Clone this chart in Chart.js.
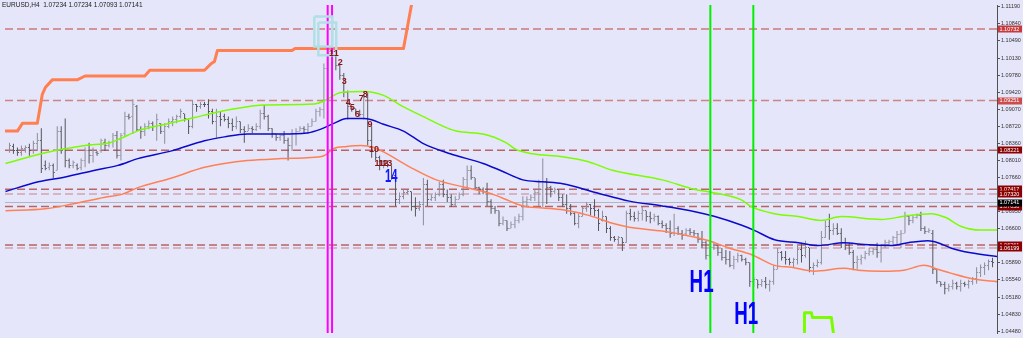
<!DOCTYPE html>
<html><head><meta charset="utf-8">
<script src="https://cdn.jsdelivr.net/npm/chart.js@4.4.1/dist/chart.umd.min.js"></script>
<style>html,body{margin:0;padding:0;background:#E6E6FA;overflow:hidden}canvas{display:block}</style>
</head><body>
<canvas id="c" width="1023" height="338"></canvas>
<script>
const symbolTitle = 'EURUSD,H4  1.07234 1.07234 1.07093 1.07141';

// OHLC bars (H4), one per bar index 0..247
const opens = [
1.0821,1.0830,1.0821,1.0817,1.0826,1.0828,1.0821,1.0836,1.0842,1.0791,
1.0787,1.0791,1.0781,1.0862,1.0826,1.0801,1.0791,1.0791,1.0787,1.0801,
1.0821,1.0811,1.0817,1.0821,1.0838,1.0832,1.0838,1.0852,1.0811,1.0856,
1.0892,1.0892,1.0912,1.0866,1.0862,1.0872,1.0878,1.0872,1.0878,1.0862,
1.0872,1.0882,1.0886,1.0892,1.0898,1.0886,1.0872,1.0916,1.0912,1.0918,
1.0916,1.0902,1.0882,1.0892,1.0892,1.0886,1.0878,1.0872,1.0882,1.0866,
1.0862,1.0868,1.0866,1.0872,1.0898,1.0892,1.0868,1.0856,1.0848,1.0852,
1.0842,1.0832,1.0858,1.0862,1.0868,1.0866,1.0872,1.0882,1.0902,1.0906,
1.0992,1.1023,1.1027,1.0998,1.0978,1.0942,1.0912,1.0908,1.0902,1.0896,
1.0932,1.0842,1.0821,1.0807,1.0791,1.0795,1.0791,1.0771,1.0721,1.0727,
1.0735,1.0737,1.0705,1.0701,1.0711,1.0751,1.0721,1.0725,1.0731,1.0751,
1.0731,1.0725,1.0711,1.0721,1.0731,1.0761,1.0781,1.0765,1.0745,1.0741,
1.0737,1.0717,1.0701,1.0697,1.0671,1.0677,1.0661,1.0669,1.0677,1.0685,
1.0717,1.0721,1.0725,1.0735,1.0741,1.0757,1.0745,1.0737,1.0741,1.0725,
1.0711,1.0701,1.0691,1.0671,1.0685,1.0701,1.0711,1.0701,1.0697,1.0677,
1.0685,1.0661,1.0641,1.0637,1.0641,1.0631,1.0691,1.0685,1.0681,1.0691,
1.0697,1.0685,1.0681,1.0685,1.0671,1.0667,1.0661,1.0651,1.0661,1.0651,
1.0651,1.0657,1.0653,1.0649,1.0637,1.0631,1.0604,1.0620,1.0625,1.0610,
1.0600,1.0596,1.0584,1.0596,1.0604,1.0596,1.0590,1.0550,1.0554,1.0544,
1.0550,1.0544,1.0550,1.0576,1.0610,1.0600,1.0596,1.0590,1.0596,1.0616,
1.0604,1.0620,1.0580,1.0584,1.0590,1.0641,1.0665,1.0657,1.0661,1.0651,
1.0631,1.0625,1.0610,1.0590,1.0596,1.0600,1.0608,1.0612,1.0616,1.0610,
1.0625,1.0631,1.0633,1.0641,1.0647,1.0651,1.0685,1.0677,1.0683,1.0687,
1.0661,1.0655,1.0651,1.0576,1.0550,1.0544,1.0536,1.0540,1.0546,1.0540,
1.0546,1.0544,1.0550,1.0556,1.0570,1.0580,1.0584,1.0592];
const highs = [
1.0838,1.0836,1.0828,1.0832,1.0832,1.0836,1.0842,1.0858,1.0868,1.0801,
1.0797,1.0795,1.0872,1.0872,1.0888,1.0805,1.0801,1.0795,1.0805,1.0828,
1.0838,1.0828,1.0821,1.0846,1.0846,1.0842,1.0858,1.0862,1.0858,1.0902,
1.0898,1.0928,1.0916,1.0872,1.0878,1.0884,1.0882,1.0898,1.0878,1.0878,
1.0888,1.0892,1.0896,1.0908,1.0898,1.0886,1.0926,1.0918,1.0922,1.0922,
1.0928,1.0908,1.0908,1.0902,1.0898,1.0892,1.0888,1.0892,1.0882,1.0872,
1.0876,1.0872,1.0878,1.0906,1.0916,1.0896,1.0868,1.0856,1.0856,1.0862,
1.0848,1.0866,1.0868,1.0872,1.0872,1.0878,1.0888,1.0908,1.0912,1.1002,
1.1033,1.1033,1.1029,1.1002,1.0982,1.0946,1.0914,1.0908,1.0906,1.0936,
1.0942,1.0872,1.0826,1.0811,1.0801,1.0801,1.0791,1.0771,1.0735,1.0741,
1.0741,1.0737,1.0725,1.0717,1.0765,1.0761,1.0731,1.0735,1.0757,1.0761,
1.0741,1.0731,1.0727,1.0735,1.0767,1.0791,1.0791,1.0765,1.0747,1.0745,
1.0755,1.0721,1.0707,1.0697,1.0685,1.0677,1.0675,1.0685,1.0691,1.0727,
1.0727,1.0731,1.0741,1.0761,1.0805,1.0765,1.0749,1.0745,1.0741,1.0731,
1.0731,1.0711,1.0695,1.0691,1.0705,1.0715,1.0711,1.0721,1.0701,1.0697,
1.0685,1.0665,1.0645,1.0645,1.0641,1.0697,1.0701,1.0695,1.0697,1.0705,
1.0697,1.0695,1.0691,1.0687,1.0677,1.0671,1.0677,1.0691,1.0665,1.0657,
1.0661,1.0661,1.0657,1.0651,1.0655,1.0635,1.0631,1.0631,1.0625,1.0620,
1.0616,1.0614,1.0604,1.0610,1.0606,1.0600,1.0590,1.0560,1.0554,1.0556,
1.0560,1.0554,1.0584,1.0620,1.0614,1.0614,1.0600,1.0600,1.0625,1.0631,
1.0635,1.0620,1.0590,1.0596,1.0655,1.0677,1.0691,1.0671,1.0671,1.0661,
1.0641,1.0631,1.0616,1.0604,1.0606,1.0614,1.0620,1.0620,1.0631,1.0627,
1.0637,1.0637,1.0645,1.0655,1.0657,1.0695,1.0687,1.0687,1.0691,1.0695,
1.0665,1.0661,1.0657,1.0576,1.0550,1.0550,1.0546,1.0554,1.0550,1.0554,
1.0550,1.0554,1.0560,1.0580,1.0586,1.0590,1.0596,1.0600];
const lows = [
1.0817,1.0815,1.0811,1.0811,1.0817,1.0811,1.0815,1.0821,1.0775,1.0781,
1.0781,1.0765,1.0781,1.0815,1.0787,1.0785,1.0785,1.0781,1.0781,1.0787,
1.0795,1.0797,1.0811,1.0817,1.0821,1.0828,1.0828,1.0805,1.0801,1.0852,
1.0886,1.0856,1.0862,1.0846,1.0852,1.0866,1.0862,1.0842,1.0856,1.0836,
1.0868,1.0872,1.0878,1.0888,1.0882,1.0856,1.0868,1.0902,1.0908,1.0912,
1.0888,1.0876,1.0848,1.0872,1.0882,1.0868,1.0862,1.0866,1.0858,1.0838,
1.0862,1.0858,1.0862,1.0866,1.0886,1.0862,1.0848,1.0842,1.0842,1.0836,
1.0801,1.0821,1.0832,1.0862,1.0858,1.0856,1.0872,1.0882,1.0892,1.0888,
1.0922,1.1017,1.0988,1.0968,1.0932,1.0886,1.0902,1.0898,1.0892,1.0886,
1.0832,1.0807,1.0801,1.0781,1.0785,1.0787,1.0761,1.0707,1.0711,1.0721,
1.0731,1.0697,1.0685,1.0697,1.0667,1.0707,1.0717,1.0717,1.0727,1.0725,
1.0715,1.0705,1.0707,1.0721,1.0727,1.0741,1.0761,1.0741,1.0731,1.0731,
1.0707,1.0691,1.0691,1.0665,1.0667,1.0655,1.0661,1.0661,1.0671,1.0677,
1.0707,1.0717,1.0717,1.0707,1.0705,1.0711,1.0725,1.0731,1.0717,1.0705,
1.0691,1.0687,1.0667,1.0661,1.0685,1.0695,1.0687,1.0685,1.0655,1.0675,
1.0651,1.0635,1.0633,1.0627,1.0614,1.0631,1.0677,1.0675,1.0675,1.0677,
1.0675,1.0671,1.0675,1.0667,1.0661,1.0651,1.0641,1.0645,1.0647,1.0637,
1.0647,1.0647,1.0645,1.0631,1.0620,1.0596,1.0600,1.0616,1.0604,1.0594,
1.0586,1.0580,1.0576,1.0590,1.0592,1.0584,1.0540,1.0540,1.0536,1.0540,
1.0536,1.0530,1.0544,1.0576,1.0594,1.0586,1.0584,1.0580,1.0586,1.0590,
1.0600,1.0570,1.0564,1.0580,1.0586,1.0641,1.0637,1.0647,1.0647,1.0620,
1.0616,1.0606,1.0574,1.0576,1.0586,1.0596,1.0604,1.0606,1.0600,1.0590,
1.0620,1.0625,1.0627,1.0627,1.0620,1.0651,1.0667,1.0671,1.0681,1.0655,
1.0649,1.0651,1.0566,1.0546,1.0540,1.0524,1.0530,1.0534,1.0534,1.0530,
1.0540,1.0536,1.0544,1.0546,1.0560,1.0564,1.0574,1.0580];
const closes = [
1.0832,1.0821,1.0817,1.0826,1.0828,1.0821,1.0836,1.0842,1.0785,1.0785,
1.0791,1.0777,1.0862,1.0821,1.0801,1.0791,1.0797,1.0785,1.0801,1.0821,
1.0811,1.0821,1.0815,1.0842,1.0832,1.0838,1.0852,1.0811,1.0852,1.0892,
1.0890,1.0916,1.0866,1.0862,1.0872,1.0878,1.0872,1.0886,1.0862,1.0872,
1.0882,1.0886,1.0892,1.0902,1.0888,1.0872,1.0918,1.0912,1.0918,1.0916,
1.0902,1.0882,1.0892,1.0886,1.0886,1.0878,1.0872,1.0882,1.0866,1.0862,
1.0868,1.0866,1.0872,1.0898,1.0892,1.0868,1.0856,1.0848,1.0852,1.0842,
1.0832,1.0858,1.0862,1.0868,1.0866,1.0872,1.0882,1.0902,1.0906,1.0992,
1.1023,1.1027,1.0998,1.0978,1.0942,1.0912,1.0908,1.0902,1.0896,1.0932,
1.0842,1.0821,1.0807,1.0791,1.0795,1.0791,1.0771,1.0721,1.0727,1.0735,
1.0737,1.0705,1.0701,1.0711,1.0751,1.0721,1.0725,1.0731,1.0751,1.0731,
1.0725,1.0711,1.0721,1.0731,1.0761,1.0781,1.0765,1.0745,1.0741,1.0737,
1.0717,1.0701,1.0697,1.0671,1.0677,1.0661,1.0669,1.0677,1.0685,1.0717,
1.0721,1.0725,1.0735,1.0741,1.0757,1.0745,1.0737,1.0741,1.0725,1.0711,
1.0701,1.0691,1.0671,1.0685,1.0701,1.0711,1.0701,1.0697,1.0671,1.0685,
1.0661,1.0641,1.0637,1.0641,1.0631,1.0691,1.0685,1.0681,1.0691,1.0697,
1.0685,1.0681,1.0685,1.0671,1.0667,1.0661,1.0651,1.0661,1.0651,1.0645,
1.0657,1.0653,1.0649,1.0637,1.0631,1.0604,1.0620,1.0625,1.0610,1.0600,
1.0596,1.0584,1.0596,1.0604,1.0596,1.0590,1.0550,1.0554,1.0544,1.0550,
1.0544,1.0550,1.0576,1.0610,1.0600,1.0596,1.0590,1.0596,1.0616,1.0604,
1.0620,1.0580,1.0584,1.0590,1.0641,1.0665,1.0657,1.0661,1.0651,1.0631,
1.0625,1.0610,1.0590,1.0596,1.0600,1.0608,1.0612,1.0616,1.0610,1.0625,
1.0631,1.0633,1.0641,1.0647,1.0651,1.0685,1.0677,1.0683,1.0687,1.0661,
1.0655,1.0657,1.0576,1.0550,1.0544,1.0536,1.0540,1.0546,1.0540,1.0546,
1.0544,1.0550,1.0556,1.0570,1.0580,1.0584,1.0592,1.0590];

// price axis
const tickValues = [1.11190,1.10840,1.10490,1.10130,1.09780,1.09420,1.09070,1.08720,1.08360,1.08010,
                    1.07660,1.07300,1.06950,1.06600,1.06250,1.05890,1.05540,1.05180,1.04830,1.04480];
const yMin = 1.04440, yMax = 1.11230;
const xMin = -1.125, xMax = 248.125;

// horizontal price levels
const levelPrices = [1.10732,1.09251,1.08221,1.07417,1.07320,1.07058,1.06261,1.06199];
const levelLineColors = ['#cc7a7a','#cc8585','#b86464','#b86464','#d2a4b0','#b86464','#b86464','#d2a4b0'];
const levelBoxColors  = ['#c43c3c','#cc4c4c','#8b0000','#8b0000','#8b0000','#8b0000','#8b0000','#8b0000'];
const bidPrice = 1.07141;

// envelope / moving average lines (bar index, price)
const upperIdx = [-1,9,19,25.25,27.75,32.75,40.25,46.5,51.5,56.5,64,76.5,79,83.25,89,94,99,104,112.25,119,124.75,127.25,131.5,139,145.25,151.5,164,172.25,176.5,184,186.5,192.25,198.25,204,209,219,225.75,231.5,235.25,239,244,248.5];
const upperVal = [1.0795,1.0817,1.0832,1.0838,1.0846,1.0864,1.0878,1.0890,1.0900,1.0908,1.0916,1.0918,1.0924,1.0942,1.0944,1.0936,1.0912,1.0892,1.0862,1.0856,1.0838,1.0824,1.0815,1.0809,1.0799,1.0781,1.0761,1.0741,1.0735,1.0719,1.0705,1.0691,1.0685,1.0677,1.0685,1.0679,1.0687,1.0691,1.0683,1.0665,1.0657,1.0657];
const midIdx = [-1,7.25,14,21.5,27.25,32.25,40.75,49,54,59.75,68.25,74.75,78.25,81.5,84.75,89,90.75,94,99,104,110.75,119,123.25,129,134,139,147.25,155.75,164,172.25,177.25,184,187,192.25,198.25,203.25,209.75,214.75,221.5,225.75,230.75,233.25,236.5,241.5,248.5];
const midVal = [1.0737,1.0757,1.0767,1.0781,1.0791,1.0805,1.0821,1.0842,1.0850,1.0856,1.0856,1.0858,1.0866,1.0878,1.0888,1.0888,1.0886,1.0876,1.0862,1.0836,1.0815,1.0795,1.0781,1.0761,1.0757,1.0753,1.0735,1.0717,1.0707,1.0695,1.0685,1.0667,1.0657,1.0637,1.0631,1.0625,1.0631,1.0627,1.0625,1.0631,1.0635,1.0631,1.0620,1.0610,1.0602];
const lowIdx = [-1,9,15.75,24,28.25,32.25,40.75,49,54,59.75,68.25,74.75,79,81.5,84.75,88.25,91.5,94,100.75,107.25,114.75,121.5,125.75,129,134,139,145.75,151.5,155.75,164,170.75,175.75,180.75,186.5,192.25,196.5,202.25,209.75,213.25,219,224.75,229.75,233.25,236.5,242.25,248.5];
const lowVal = [1.0697,1.0701,1.0711,1.0725,1.0731,1.0745,1.0765,1.0787,1.0795,1.0801,1.0805,1.0807,1.0811,1.0826,1.0830,1.0832,1.0828,1.0819,1.0787,1.0761,1.0745,1.0731,1.0717,1.0707,1.0703,1.0699,1.0687,1.0671,1.0663,1.0655,1.0645,1.0635,1.0620,1.0606,1.0584,1.0580,1.0572,1.0578,1.0574,1.0572,1.0574,1.0584,1.0576,1.0568,1.0556,1.0550];

// trailing stop lines
const stopUpIdx = [-1.5,2,3.25,7,8.25,9,10.75,17,19,34,35.25,49,50.75,51.5,52.25,71,71.75,99,101,101.5];
const stopUpVal = [1.0862,1.0862,1.0878,1.0878,1.0938,1.0952,1.0968,1.0968,1.0976,1.0976,1.0988,1.0988,1.1002,1.1006,1.1029,1.1029,1.1033,1.1033,1.1123,1.1163];
const stopDnIdx = [199.75,199.75,201.5,201.75,206.5,207.25];
const stopDnVal = [1.0430,1.0486,1.0486,1.0476,1.0476,1.0430];

// vertical lines and boxes
const magentaIdx = [79.95,81.05];
const limeIdx = [176.1,186.9];
const rectLeft = [76.6,77.6], rectRight = [81.1,82.1], rectTop = [1.1099,1.1087], rectBottom = [1.1037,1.1019];

// counter labels
const countText  = ['1','1','2','3','4','5','6','7','8','9','10','11','12','13'];
const countIdx   = [80.9,82.1,83.1,84.1,85.1,86.1,87.4,88.4,89.4,90.6,91.6,92.9,93.9,94.9];
const countPrice = [1.1023,1.1023,1.1004,1.0964,1.0922,1.0910,1.0896,1.0930,1.0938,1.0876,1.0824,1.0795,1.0795,1.0795];
const bigCountText = '14', bigCountIdx = 95.9, bigCountPrice = 1.0771;
const tfText = ['H1','H1'], tfIdx = [173.9,185.1], tfPrice = [1.0552,1.0486];

const BG = '#E6E6FA';
const UP = '#8c8c9a', DN = '#55555c';

function tickImg(color, col){
  const c = document.createElement('canvas'); c.width = 5; c.height = 1;
  const g = c.getContext('2d'); g.fillStyle = color; g.fillRect(col,0,1,1); return c;
}
const imgOpenUp = tickImg(UP,1), imgOpenDn = tickImg(DN,1), imgCloseUp = tickImg(UP,3), imgCloseDn = tickImg(DN,3);
const isUp = i => closes[i] >= opens[i];

const pts = (xs, ys) => xs.map((x,i)=>({x:x, y:ys[i]}));
const lineDs = (data, color, width, order, extra) => Object.assign({
  type:'line', data, borderColor:color, borderWidth:width, pointRadius:0, fill:false, tension:0, order
}, extra||{});

const datasets = [];
levelPrices.forEach((p,k)=>{
  datasets.push(lineDs([{x:xMin,y:p},{x:xMax,y:p}], levelLineColors[k], 1.5, 20, {borderDash:[8,4]}));
});
datasets.push(lineDs([{x:xMin,y:bidPrice},{x:xMax,y:bidPrice}], '#b4b4c4', 1, 19));
magentaIdx.forEach(v=>datasets.push(lineDs([{x:v,y:yMin},{x:v,y:yMax}], '#ff00ff', 2, 3)));
limeIdx.forEach(v=>datasets.push(lineDs([{x:v,y:yMin},{x:v,y:yMax}], '#00f000', 2, 3)));
rectLeft.forEach((l,k)=>{
  datasets.push(lineDs([{x:l,y:rectTop[k]},{x:rectRight[k],y:rectTop[k]},{x:rectRight[k],y:rectBottom[k]},{x:l,y:rectBottom[k]},{x:l,y:rectTop[k]}], '#b0e0e6', 2.5, 2));
});
datasets.push({
  type:'bar', data: highs.map((h,i)=>({x:i, y:[lows[i], h]})),
  backgroundColor: ctx => isUp(ctx.dataIndex) ? UP : DN,
  barThickness:1, borderWidth:0, inflateAmount:0, grouped:false, order:10
});
datasets.push({type:'scatter', data: opens.map((o,i)=>({x:i,y:o})), pointStyle: ctx => isUp(ctx.dataIndex)?imgOpenUp:imgOpenDn, pointRadius:1, order:9});
datasets.push({type:'scatter', data: closes.map((c,i)=>({x:i,y:c})), pointStyle: ctx => isUp(ctx.dataIndex)?imgCloseUp:imgCloseDn, pointRadius:1, order:9});
datasets.push(lineDs(pts(lowIdx,lowVal), '#ff8055', 1.5, 5, {cubicInterpolationMode:'monotone'}));
datasets.push(lineDs(pts(midIdx,midVal), '#0a0acd', 1.5, 5, {cubicInterpolationMode:'monotone'}));
datasets.push(lineDs(pts(upperIdx,upperVal), '#7cfc00', 1.5, 5, {cubicInterpolationMode:'monotone'}));
datasets.push(lineDs(pts(stopUpIdx,stopUpVal), '#ff7f50', 3, 4, {borderJoinStyle:'round'}));
datasets.push(lineDs(pts(stopDnIdx,stopDnVal), '#7cfc00', 3, 4, {borderJoinStyle:'round'}));

const overlay = {
  id:'overlay',
  beforeDraw(chart){
    const c = chart.ctx; c.save(); c.fillStyle = BG; c.fillRect(0,0,chart.width,chart.height); c.restore();
  },
  afterDraw(chart){
    const c = chart.ctx, xs = chart.scales.x, ys = chart.scales.y, a = chart.chartArea;
    c.save();
    c.font = '5.5px "Liberation Sans", Arial, sans-serif';
    c.textBaseline = 'middle'; c.textAlign = 'left';
    const boxes = levelPrices.map((p,k)=>({p, col:levelBoxColors[k]})).concat([{p:bidPrice, col:'#000000'}]);
    boxes.forEach(b=>{
      const py = ys.getPixelForValue(b.p);
      c.fillStyle = b.col; c.fillRect(a.right+1, Math.round(py)-3.5, 24, 7);
      c.fillStyle = '#ffffff'; c.fillText(b.p.toFixed(5), a.right+2.5, py+0.3);
    });
    c.fillStyle = '#202020'; c.font = '6.5px "Liberation Sans", Arial, sans-serif'; c.textBaseline = 'top';
    c.fillText(symbolTitle, 2, 1.5);
    c.font = 'bold 9px "Liberation Sans", Arial, sans-serif'; c.textAlign = 'center'; c.textBaseline = 'middle';
    c.fillStyle = '#8b1414';
    countText.forEach((t,k)=>c.fillText(t, xs.getPixelForValue(countIdx[k]), ys.getPixelForValue(countPrice[k])));
    const stretched = (text, idx, price, size, w, h, color) => {
      c.save();
      c.font = 'bold ' + size + 'px "Liberation Sans Narrow", "Liberation Sans", Arial, sans-serif';
      c.textAlign = 'center'; c.textBaseline = 'alphabetic';
      const mw = c.measureText(text).width, cap = 0.716*size;
      const sx = w/mw, sy = h/cap;
      const cx = xs.getPixelForValue(idx), cy = ys.getPixelForValue(price);
      c.translate(cx, cy + h/2); c.scale(sx, sy);
      c.fillStyle = color; c.fillText(text, 0, 0);
      c.restore();
    };
    stretched(bigCountText, bigCountIdx, bigCountPrice, 14, 12.5, 13, '#1414ff');
    tfText.forEach((t,k)=>stretched(t, tfIdx[k], tfPrice[k], 24, 24, 23, '#0000ff'));
    c.restore();
  }
};

new Chart(document.getElementById('c'), {
  type:'bar',
  data:{datasets},
  options:{
    responsive:false, animation:false, devicePixelRatio:1, events:[],
    layout:{padding:0},
    plugins:{legend:{display:false}, tooltip:{enabled:false}, title:{display:false}},
    scales:{
      x:{type:'linear', min:xMin, max:xMax, display:false, offset:false, grid:{display:false}},
      y:{type:'linear', position:'right', min:yMin, max:yMax,
         afterBuildTicks: s => { s.ticks = tickValues.map(v=>({value:v})); },
         afterFit: s => { s.width = 26; s.paddingTop = 0; s.paddingBottom = 0; },
         ticks:{autoSkip:false, padding:1, color:'#333333', font:{family:'"Liberation Sans", Arial, sans-serif', size:5.5},
                callback: v => Number(v).toFixed(5)},
         grid:{drawOnChartArea:false, tickLength:3, color:'#555555'},
         border:{display:true, color:'#505050', width:1}
      }
    }
  },
  plugins:[overlay]
});
</script>
</body></html>
